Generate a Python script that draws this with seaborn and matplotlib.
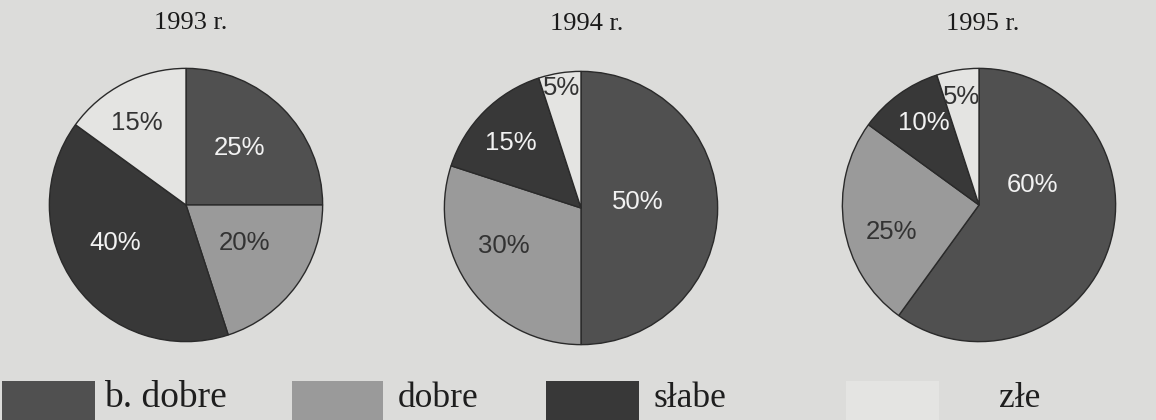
import numpy as np
import matplotlib
matplotlib.use("Agg")
import matplotlib.pyplot as plt
from matplotlib.patches import Rectangle
import seaborn as sns

# data
categories = ["b. dobre", "dobre", "słabe", "złe"]
years = ["1993 r.", "1994 r.", "1995 r."]
shares_1993 = [25, 20, 40, 15]
shares_1994 = [50, 30, 15, 5]
shares_1995 = [60, 25, 10, 5]

# styling
bg = "#dcdcda"
grays = ["#505050", "#9a9a9a", "#383838", "#e4e4e2"]
label_colors = ["#f2f2f2", "#333333", "#f2f2f2", "#333333"]

W, H = 1156, 420
R = 138
centers = [(186, 205), (581, 208), (979, 205)]
title_pos = [(191, 23), (587, 24), (983, 24)]
# per-slice label radius (fraction of radius) and angle tweak (deg)
label_r = [[0.57, 0.51, 0.59, 0.70],
           [0.42, 0.63, 0.70, 0.89],
           [0.42, 0.67, 0.72, 0.80]]
label_shift = [[2, 3, -8, 4],
               [6, -10, 2, 0],
               [38, 8, -2, 0]]
legend_boxes = [(2, 95, 104), (292, 383, 398), (546, 639, 653), (846, 939, 999)]

sns.set_theme(style="white", rc={"figure.facecolor": bg, "axes.facecolor": bg})
plt.rcParams["font.family"] = ["Liberation Sans", "DejaVu Sans"]

fig = plt.figure(figsize=(W / 100, H / 100), dpi=100)
fig.patch.set_facecolor(bg)

all_shares = [shares_1993, shares_1994, shares_1995]
for i, shares in enumerate(all_shares):
    cx, cy = centers[i]
    ax = fig.add_axes([(cx - R) / W, 1 - (cy + R) / H, 2 * R / W, 2 * R / H])
    wedges, texts, autotexts = ax.pie(
        shares,
        colors=grays,
        startangle=90,
        counterclock=False,
        radius=1,
        autopct=lambda p: f"{p:.0f}%",
        wedgeprops=dict(edgecolor="#2a2a2a", linewidth=1.0),
        textprops=dict(fontsize=18.5, family=["Liberation Sans", "DejaVu Sans"]),
    )
    for j, (w, t) in enumerate(zip(wedges, autotexts)):
        ang = np.deg2rad((w.theta1 + w.theta2) / 2 + label_shift[i][j])
        rr = label_r[i][j]
        t.set_position((rr * np.cos(ang), rr * np.sin(ang)))
        t.set_color(label_colors[j])
    ax.set_xlim(-1.01, 1.01)
    ax.set_ylim(-1.01, 1.01)
    ax.set_aspect("equal")
    ax.axis("off")

    tx, ty = title_pos[i]
    fig.text(tx / W, 1 - ty / H, years[i], ha="center", va="center",
             fontsize=19, family=["Liberation Serif", "DejaVu Serif"], color="#1a1a1a")

# legend along the bottom edge
for k, (x0, x1, xt) in enumerate(legend_boxes):
    fig.add_artist(Rectangle((x0 / W, 0), (x1 - x0) / W, (H - 381) / H,
                             transform=fig.transFigure, facecolor=grays[k],
                             edgecolor="none"))
    size = 27 if k == 0 else 25.5
    fig.text(xt / W, 1 - 407 / H, categories[k], ha="left", va="baseline",
             fontsize=size, family=["Liberation Serif", "DejaVu Serif"], color="#1e1e1e")

fig.savefig("out.png", dpi=100, facecolor=bg)
